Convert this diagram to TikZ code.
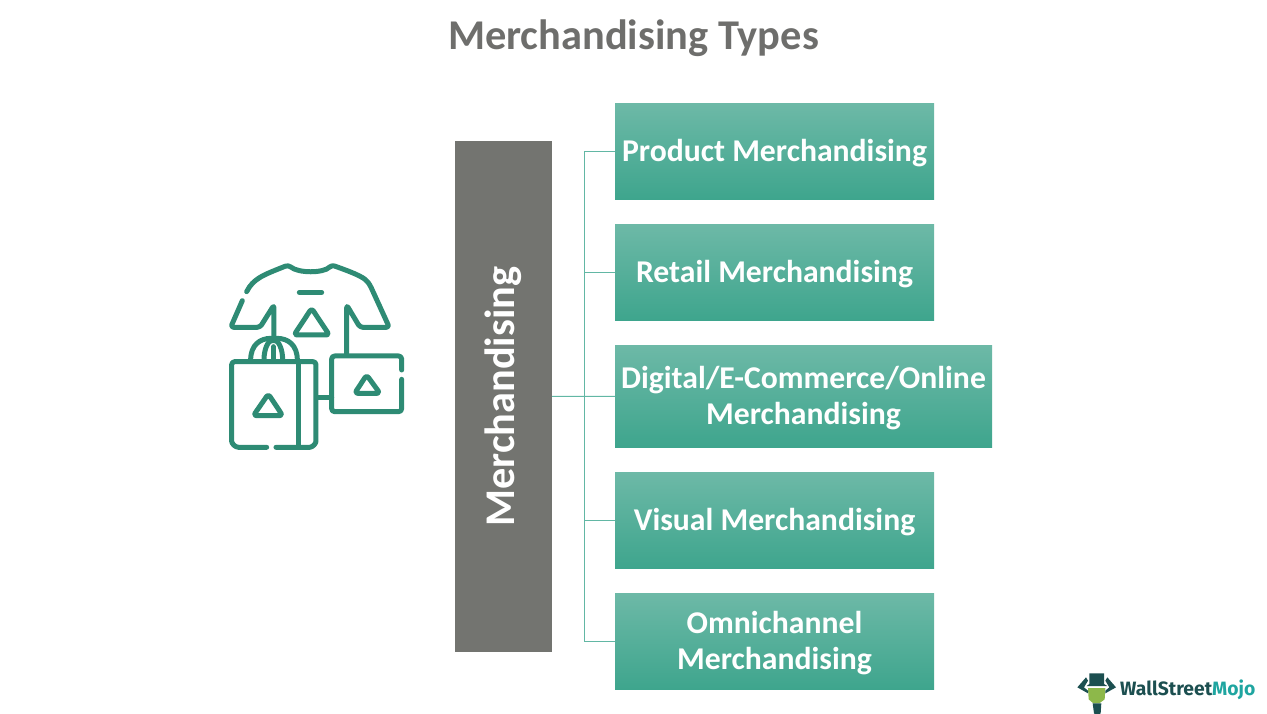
\documentclass[tikz,border=0pt]{standalone}
\usepackage{fontspec}
\setmainfont{Carlito}
\newfontfamily\logofont{Fira Sans}
\usetikzlibrary{positioning}
\definecolor{titlegray}{HTML}{6E6E6C}
\definecolor{maingray}{HTML}{737470}
\definecolor{tealtop}{HTML}{6DB9A7}
\definecolor{tealmid}{HTML}{4DB39B}
\definecolor{tealbot}{HTML}{3EA58D}
\definecolor{linkteal}{HTML}{62B7A4}
\definecolor{icongreen}{HTML}{2E8B74}
\definecolor{logodark}{HTML}{1C4F50}
\definecolor{logoteal}{HTML}{1FA5A0}
\definecolor{logogreen}{HTML}{8DB84A}
\newcommand{\fsize}[1]{\fontsize{#1}{#1}\selectfont}
\newcommand{\lowtext}[1]{\raisebox{-2pt}[\height][\depth]{#1}}

\begin{document}
\begin{tikzpicture}[x=1pt, y=-1pt,
    typebox/.style={shade, top color=tealtop, middle color=tealmid, bottom color=tealbot,
      minimum width=319pt, minimum height=96.5pt, inner sep=0pt, outer sep=0pt, align=center,
      text=white, font=\fsize{31.7}\bfseries},
    link/.style={draw=linkteal, line width=1pt},
    icon/.style={draw=icongreen, line width=5pt, line cap=round, line join=round, rounded corners=3pt}]
  \useasboundingbox (0,0) rectangle (1267,713);
  \node[text=titlegray, font=\fsize{42.4}\bfseries] (title) at (633.5,38) {Merchandising Types};
  \node[fill=maingray, text=white, rotate=90, minimum width=511pt, minimum height=97pt, inner sep=0pt, outer sep=0pt,
    font=\fsize{42.3}\bfseries] (main) at (503.5,396.5) {Merchandising};
  \node[typebox, anchor=north west] (product) at (615,103) {\lowtext{Product Merchandising}};
  \node[typebox, below right=24.5pt and 0pt of product.south west] (retail) {\lowtext{Retail Merchandising}};
  \node[typebox, below right=24.5pt and 0pt of retail.south west, minimum width=377pt, minimum height=102.5pt] (digital) {\lowtext{Digital/E-Commerce/Online}\\[4pt]\lowtext{Merchandising}};
  \node[typebox, below right=24.5pt and 0pt of digital.south west] (visual) {\lowtext{Visual Merchandising}};
  \node[typebox, below right=24.5pt and 0pt of visual.south west] (omni) {\lowtext{Omnichannel}\\[4pt]\lowtext{Merchandising}};
  \coordinate (spine) at (584.5,396.5);
  \draw[link] (main) -- (digital);
  \draw[link] (product.west) -| (spine);
  \draw[link] (retail.west) -| (spine);
  \draw[link] (visual.west) -| (spine);
  \draw[link] (omni.west) -| (spine);
  % shirt and bags, numbers read off the 3x crop
  \begin{scope}[shift={(210,250)}, x=0.3333pt, y=-0.3333pt]
    \draw[icon] (410,315) -- (410,165) -- (450,232) -- (538,232) -- (480,105)
      .. controls (465,85) and (450,75) .. (365,45) .. controls (340,70) and (265,70) .. (235,45)
      .. controls (160,75) and (130,85) .. (110,125);
    \draw[icon] (97,152) -- (62,232) -- (150,232) -- (192,165) -- (192,270);
    \draw[icon] (268,127) -- (335,127);
    \draw[icon] (305,175) -- (358,255) -- (252,255) -- cycle;
    \draw[icon] (170,592) -- (95,592) .. controls (75,592) and (65,580) .. (65,565) -- (65,335) -- (318,335) -- (318,565)
      .. controls (318,580) and (308,592) .. (290,592) -- (198,592);
    \draw[icon] (265,335) -- (265,592);
    \draw[icon] (122,330) .. controls (122,285) and (150,265) .. (192,265) .. controls (234,265) and (262,285) .. (262,330);
    \draw[icon] (162,330) .. controls (162,295) and (175,275) .. (190,270) .. controls (205,275) and (218,295) .. (218,330);
    \draw[icon] (190,290) -- (190,330);
    \draw[icon] (175,432) -- (218,497) -- (130,497) -- cycle;
    \draw[icon] (322,442) -- (365,442);
    \draw[icon] (575,360) -- (575,318) -- (365,318) -- (365,485) -- (575,485) -- (575,388);
    \draw[icon] (470,375) -- (510,430) -- (434,430) -- cycle;
  \end{scope}
  % logo
  \begin{scope}[shift={(1060,660)}, x=0.3333pt, y=-0.3333pt]
    \fill[logodark] (88,40) -- (132,40) -- (132,72) -- (142,78) -- (80,78) -- (88,72) -- cycle;
    \fill[logogreen] (84,84) -- (136,84) -- (134,118) -- (118,130) -- (100,130) -- (86,118) -- cycle;
    \fill[logodark] (98,130) -- (124,130) -- (122,160) -- (112,168) -- (102,160) -- cycle;
    \fill[logodark] (52,82) -- (78,52) -- (84,62) -- (72,82) -- (84,92) -- (84,100) -- cycle;
    \fill[logodark] (168,82) -- (142,52) -- (136,62) -- (148,82) -- (136,92) -- (136,100) -- cycle;
    \node[anchor=west, inner sep=0pt, font=\logofont\fsize{19.3}\bfseries, text=logodark] (logo) at (180,90)
      {WallStreet\textcolor{logoteal}{Mojo}};
  \end{scope}
\end{tikzpicture}
\end{document}
